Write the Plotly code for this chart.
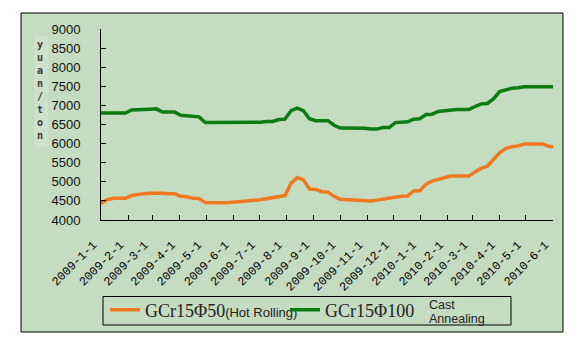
import pandas as pd
import plotly.graph_objects as go

# ---- data (weekly readings, yuan/ton) ----
week_dates = list(pd.date_range("2009-01-01", periods=74, freq="7D")) + [pd.Timestamp("2010-06-01")]

hot_rolling_50 = [4430, 4530, 4570, 4570, 4570, 4640, 4670, 4690, 4700, 4710,
                  4700, 4690, 4690, 4620, 4610, 4570, 4560, 4460, 4450, 4450,
                  4450, 4460, 4480, 4490, 4510, 4520, 4530, 4560, 4590, 4600,
                  4640, 4960, 5110, 5050, 4810, 4800, 4740, 4730, 4620, 4540,
                  4530, 4520, 4510, 4500, 4500, 4520, 4550, 4570, 4600, 4620,
                  4630, 4760, 4770, 4940, 5020, 5060, 5120, 5150, 5150, 5150,
                  5150, 5260, 5350, 5410, 5600, 5760, 5870, 5920, 5940, 5990,
                  5990, 5990, 5990, 5930, 5920]

cast_annealing_100 = [6800, 6800, 6800, 6800, 6800, 6880, 6880, 6880, 6900, 6910,
                      6830, 6830, 6830, 6740, 6730, 6710, 6700, 6550, 6550, 6550,
                      6550, 6550, 6550, 6550, 6550, 6550, 6560, 6580, 6580, 6630,
                      6640, 6860, 6930, 6860, 6650, 6600, 6600, 6600, 6480, 6410,
                      6410, 6410, 6400, 6400, 6380, 6380, 6420, 6420, 6550, 6560,
                      6570, 6640, 6650, 6760, 6770, 6840, 6860, 6890, 6890, 6890,
                      6890, 6970, 7040, 7050, 7170, 7360, 7400, 7450, 7460, 7490,
                      7490, 7490, 7490, 7490, 7490]

tick_dates = ["2009-01-01", "2009-02-01", "2009-03-01", "2009-04-01", "2009-05-01",
              "2009-06-01", "2009-07-01", "2009-08-01", "2009-09-01", "2009-10-01",
              "2009-11-01", "2009-12-01", "2010-01-01", "2010-02-01", "2010-03-01",
              "2010-04-01", "2010-05-01", "2010-06-01"]
tick_labels = ["2009-1-1", "2009-2-1", "2009-3-1", "2009-4-1", "2009-5-1",
               "2009-6-1", "2009-7-1", "2009-8-1", "2009-9-1", "2009-10-1",
               "2009-11-1", "2009-12-1", "2010-1-1", "2010-2-1", "2010-3-1",
               "2010-4-1", "2010-5-1", "2010-6-1"]

series_names = [
    'GCr15Φ50<span style="font-family:Liberation Sans;font-size:13px">(Hot Rolling)</span>',
    'GCr15Φ100',
]
series_colors = ["#f0781e", "#0e7a12"]

# ---- layout geometry (pixels) ----
W, H = 581, 347
L, R, T, B = 101, 28, 29, 127
PW, PH = W - L - R, H - T - B


def px(x):
    return (x - L) / PW


def py(y):
    return (H - B - y) / PH


PANEL = "#c4dcc0"

fig = go.Figure()
fig.add_trace(go.Scatter(x=week_dates, y=hot_rolling_50, mode="lines",
                         name=series_names[0],
                         line=dict(color=series_colors[0], width=3.5)))
fig.add_trace(go.Scatter(x=week_dates, y=cast_annealing_100, mode="lines",
                         name=series_names[1],
                         line=dict(color=series_colors[1], width=3.5)))

fig.update_layout(
    width=W, height=H, autosize=False,
    margin=dict(l=L, r=R, t=T, b=B, pad=0),
    paper_bgcolor="white",
    plot_bgcolor="rgba(0,0,0,0)",
    font=dict(family="Liberation Sans", size=13, color="#111"),
    showlegend=True,
    legend=dict(orientation="h", x=px(105), y=py(310), xanchor="left", yanchor="middle",
                bgcolor="rgba(0,0,0,0)", borderwidth=0,
                font=dict(family="Liberation Serif", size=18, color="#222"),
                entrywidthmode="pixels", entrywidth=135, tracegroupgap=0),
    xaxis=dict(type="date", range=["2009-01-01", "2010-06-01"],
               tickvals=tick_dates, ticktext=tick_labels, tickangle=-45,
               ticks="inside", ticklen=5, tickcolor="black", tickwidth=1,
               showline=True, linecolor="black", linewidth=1,
               showgrid=False, zeroline=False,
               ticklabelshift=-8, ticklabelstandoff=12,
               tickfont=dict(family="Liberation Mono", size=12, color="#000")),
    yaxis=dict(range=[4000, 9000], dtick=500, tick0=4000,
               ticks="inside", ticklen=5, tickcolor="black", tickwidth=1,
               showline=True, linecolor="black", linewidth=1,
               showgrid=False, zeroline=False, ticklabelstandoff=17,
               tickfont=dict(family="Liberation Sans", size=13, color="#111")),
    shapes=[
        dict(type="rect", xref="paper", yref="paper", layer="below",
             x0=px(21), x1=px(563), y0=py(332), y1=py(13),
             fillcolor=PANEL, line=dict(color="black", width=1)),
        dict(type="rect", xref="paper", yref="paper", layer="below",
             x0=px(34), x1=px(48), y0=py(147), y1=py(36),
             fillcolor="#cde2ca", line=dict(width=0)),
        dict(type="rect", xref="paper", yref="paper", layer="above",
             x0=px(103), x1=px(511), y0=py(325), y1=py(296.5),
             fillcolor="rgba(0,0,0,0)", line=dict(color="black", width=1)),
    ],
    annotations=[
        dict(text="<b>y<br>u<br>a<br>n<br>/<br>t<br>o<br>n</b>", xref="paper", yref="paper",
             x=px(40), y=py(90), xanchor="center", yanchor="middle", showarrow=False,
             font=dict(family="DejaVu Sans Mono", size=10, color="#3a3a3a")),
        dict(text="Cast", xref="paper", yref="paper", x=px(428), y=py(304.5),
             xanchor="left", yanchor="middle", showarrow=False, borderpad=0,
             font=dict(family="Liberation Sans", size=12.5, color="#222")),
        dict(text="Annealing", xref="paper", yref="paper", x=px(428), y=py(318.5),
             xanchor="left", yanchor="middle", showarrow=False, borderpad=0,
             font=dict(family="Liberation Sans", size=12.5, color="#222")),
    ],
)

fig.write_html("out.html", config={"displayModeBar": False})
